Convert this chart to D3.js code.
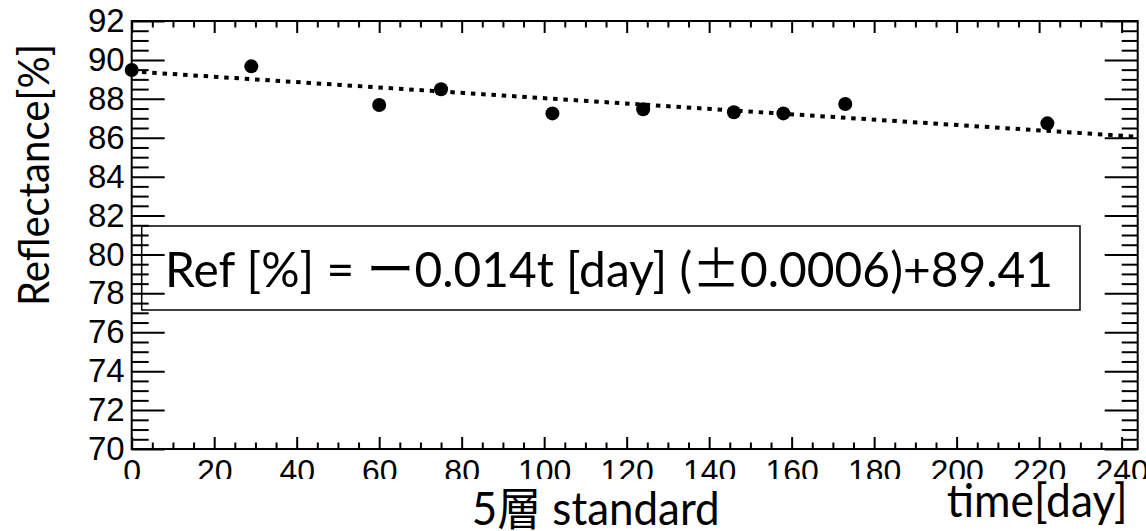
<!DOCTYPE html>
<html><head><meta charset="utf-8">
<script src="https://cdn.jsdelivr.net/npm/d3@7"></script>
<style>html,body{margin:0;padding:0;background:#fff;overflow:hidden}</style>
</head><body><svg id="c" width="1146" height="531"></svg>
<script>
// ---- data ----
const days = [0, 29, 60, 75, 102, 124, 146, 158, 173, 222];
const reflectance = [89.48, 89.67, 87.68, 88.49, 87.25, 87.46, 87.31, 87.25, 87.73, 86.74];
const fitDays = [0, 243.9];
const fitValues = [89.41, 86.05];
const xTicks = [0, 20, 40, 60, 80, 100, 120, 140, 160, 180, 200, 220, 240];
const yTicks = [70, 72, 74, 76, 78, 80, 82, 84, 86, 88, 90, 92];
const xDomain = [0, 243.9];
const yDomain = [70, 92];
const yTitle = "Reflectance[%]";
const xTitle = "time[day]";
const captionParts = ["5", "層", " standard"];
const equationParts = ["Ref [%] = ", "ー", "0.014t [day] (", "±", "0.0006)+89.41"];

// ---- layout ----
const svg = d3.select("#c");
svg.append("rect").attr("width", 1146).attr("height", 531).attr("fill", "#fff");
const L = 131.7, R = 1137.7, T = 21, B = 449;
const x = d3.scaleLinear().domain(xDomain).range([L, R]);
const y = d3.scaleLinear().domain(yDomain).range([B, T]);

const xMinor = d3.range(0, xDomain[1], 5).filter(v => !xTicks.includes(v));
const yMinor = d3.range(yDomain[0], yDomain[1], 0.5).filter(v => !yTicks.includes(v));

function styleAxis(g) {
  g.select(".domain").remove();
  g.selectAll(".tick line").attr("stroke", "#000").attr("stroke-width", 2);
}
const tickFont = "'Liberation Sans', Arial, sans-serif";

// bottom
svg.append("g").attr("transform", `translate(0,${B})`)
  .call(d3.axisBottom(x).tickValues(xTicks).tickSize(-12).tickPadding(10.3).tickFormat(d3.format("d")))
  .call(styleAxis)
  .call(g => g.selectAll("text").attr("font-family", tickFont).attr("font-size", 32).attr("fill", "#000"));
svg.append("g").attr("transform", `translate(0,${B})`)
  .call(d3.axisBottom(x).tickValues(xMinor).tickSize(-6.5).tickFormat(""))
  .call(styleAxis);
// top
svg.append("g").attr("transform", `translate(0,${T})`)
  .call(d3.axisTop(x).tickValues(xTicks).tickSize(-12).tickFormat(""))
  .call(styleAxis);
svg.append("g").attr("transform", `translate(0,${T})`)
  .call(d3.axisTop(x).tickValues(xMinor).tickSize(-6.5).tickFormat(""))
  .call(styleAxis);
// left
svg.append("g").attr("transform", `translate(${L},0)`)
  .call(d3.axisLeft(y).tickValues(yTicks).tickSize(-33).tickPadding(7).tickFormat(d3.format("d")))
  .call(styleAxis)
  .call(g => g.selectAll("text").attr("font-family", tickFont).attr("font-size", 33).attr("fill", "#000"));
svg.append("g").attr("transform", `translate(${L},0)`)
  .call(d3.axisLeft(y).tickValues(yMinor).tickSize(-17).tickFormat(""))
  .call(styleAxis);
// right
svg.append("g").attr("transform", `translate(${R},0)`)
  .call(d3.axisRight(y).tickValues(yTicks).tickSize(-33).tickFormat(""))
  .call(styleAxis);
svg.append("g").attr("transform", `translate(${R},0)`)
  .call(d3.axisRight(y).tickValues(yMinor).tickSize(-16).tickFormat(""))
  .call(styleAxis);

// frame
svg.append("rect").attr("x", L).attr("y", T).attr("width", R - L).attr("height", B - T)
  .attr("fill", "none").attr("stroke", "#000").attr("stroke-width", 2);

// fit line
const fitData = fitDays.map((d, i) => [d, fitValues[i]]);
svg.append("path")
  .attr("d", d3.line().x(d => x(d[0])).y(d => y(d[1]))(fitData))
  .attr("fill", "none").attr("stroke", "#000").attr("stroke-width", 4)
  .attr("stroke-dasharray", "4.5,5.8");

// points
svg.append("g").selectAll("circle").data(days.map((d, i) => [d, reflectance[i]]))
  .join("circle").attr("cx", d => x(d[0])).attr("cy", d => y(d[1])).attr("r", 7).attr("fill", "#000");

// equation box
svg.append("rect").attr("x", 141.7).attr("y", 226).attr("width", 1080 - 141.7).attr("height", 310 - 226)
  .attr("fill", "none").attr("stroke", "#000").attr("stroke-width", 1.5);
const eq = svg.append("text").attr("x", 165).attr("y", 286.7).attr("font-size", 49)
  .attr("font-family", "Lato, 'Noto Sans CJK JP', sans-serif").attr("fill", "#000")
  .attr("textLength", 888).attr("lengthAdjust", "spacingAndGlyphs");
equationParts.forEach((p, i) => {
  eq.append("tspan").text(p)
    .attr("font-family", (i === 1 || i === 3) ? "'Noto Sans CJK JP', sans-serif" : "Lato, sans-serif");
});

// y title
svg.append("text").attr("transform", "translate(48.5,175) rotate(-90)")
  .attr("text-anchor", "middle").attr("font-family", "Lato, sans-serif").attr("font-size", 43)
  .attr("textLength", 262).attr("lengthAdjust", "spacingAndGlyphs").attr("fill", "#000").text(yTitle);

// white area covering the lower part of x tick labels
svg.append("rect").attr("x", 0).attr("y", 479).attr("width", 1146).attr("height", 52).attr("fill", "#fff");

// caption
const cap = svg.append("text").attr("x", 471.7).attr("y", 525).attr("font-size", 46)
  .attr("fill", "#000").attr("textLength", 248).attr("lengthAdjust", "spacingAndGlyphs");
captionParts.forEach((p, i) => {
  cap.append("tspan").text(p)
    .attr("font-family", i === 1 ? "'Noto Sans CJK JP', sans-serif" : "Lato, sans-serif");
});
// x title
svg.append("text").attr("x", 946.7).attr("y", 517).attr("font-size", 46)
  .attr("font-family", "Lato, sans-serif").attr("fill", "#000")
  .attr("textLength", 181).attr("lengthAdjust", "spacingAndGlyphs").text(xTitle);
</script></body></html>
